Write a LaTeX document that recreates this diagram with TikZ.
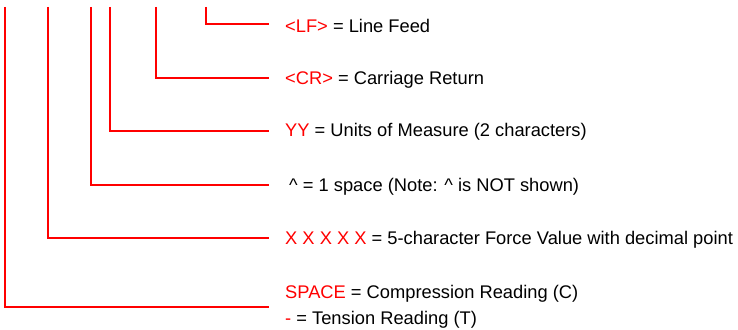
\documentclass[tikz,border=0pt]{standalone}
\usepackage{fontspec}
\setmainfont{Liberation Sans}
\usepackage{tikz}
\usetikzlibrary{positioning}
\tikzstyle{lead} = [draw=red, line width=1.2pt]
\tikzstyle{legend} = [inner sep=0pt, anchor=west, font=\fontsize{18.3}{26}\selectfont, align=left]
\newcommand{\code}[1]{\textcolor{red}{#1}}

\begin{document}
\begin{tikzpicture}[x=1pt, y=-1pt]
\useasboundingbox (0,0) rectangle (738,329);
% tops of the leads
\coordinate (tsign) at (5,7);
\coordinate (tforce) at (48,7);
\coordinate (tspace) at (91,7);
\coordinate (tunits) at (110,7);
\coordinate (tcr) at (156,7);
\coordinate (tlf) at (206,7);
% ends of the leads
\coordinate (elf) at (269,24);
\coordinate (ecr) at (269,78);
\coordinate (eunits) at (269,131);
\coordinate (espace) at (269,185);
\coordinate (eforce) at (269,238);
\coordinate (esign) at (269,307);
% legend texts
\node [legend, right=16pt of elf, yshift=-2pt] (lf) {\code{<LF>} = Line Feed};
\node [legend, right=16pt of ecr, yshift=-2pt] (cr) {\code{<CR>} = Carriage Return};
\node [legend, right=16pt of eunits, yshift=-1pt] (units) {\code{YY} = Units of Measure (2 characters)};
\node [legend, right=20pt of espace, yshift=-2pt] (space) {\textasciicircum{} = 1 space (Note: \textasciicircum{} is NOT shown)};
\node [legend, right=16pt of eforce, yshift=-2pt] (force) {\code{X X X X X} = 5-character Force Value with decimal point};
\node [legend, right=16pt of esign] (sign) {\code{SPACE} = Compression Reading (C)\\ \code{-} = Tension Reading (T)};
% leads
\draw [lead] (tlf) |- (elf);
\draw [lead] (tcr) |- (ecr);
\draw [lead] (tunits) |- (eunits);
\draw [lead] (tspace) |- (espace);
\draw [lead] (tforce) |- (eforce);
\draw [lead] (tsign) |- (esign);
\end{tikzpicture}
\end{document}
